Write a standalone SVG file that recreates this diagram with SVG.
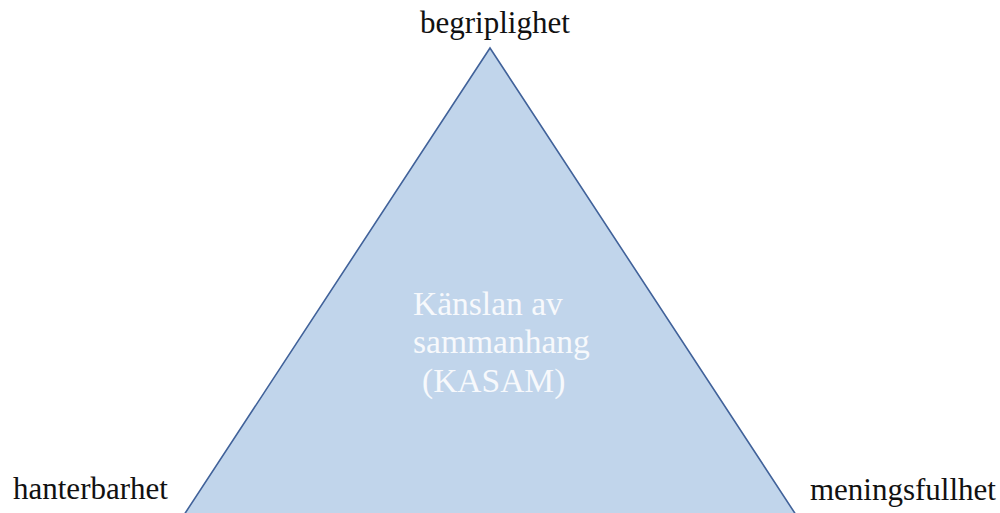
<svg xmlns="http://www.w3.org/2000/svg" width="1000" height="513" viewBox="0 0 1000 513">
<style>
.lbl{font-family:"Liberation Serif","Times New Roman",serif;font-size:31px;fill:#111111}
.inner{font-family:"Liberation Serif","Times New Roman",serif;font-size:33.5px;fill:#f7f9fc}
</style>
<rect width="1000" height="513" fill="#ffffff"/>
<g id="triangle">
<polygon points="490,48 180,521 800,521" fill="#c1d5eb" stroke="#41629a" stroke-width="1.6" stroke-linejoin="miter"/>
<text class="inner" x="413" y="315">Känslan av</text>
<text class="inner" x="413" y="353">sammanhang</text>
<text class="inner" x="422" y="392">(KASAM)</text>
</g>
<g id="connectors"></g>
<g id="begriplighet"><text class="lbl" x="420" y="33">begriplighet</text></g>
<g id="hanterbarhet"><text class="lbl" x="13" y="499">hanterbarhet</text></g>
<g id="meningsfullhet"><text class="lbl" x="810" y="500">meningsfullhet</text></g>
</svg>
